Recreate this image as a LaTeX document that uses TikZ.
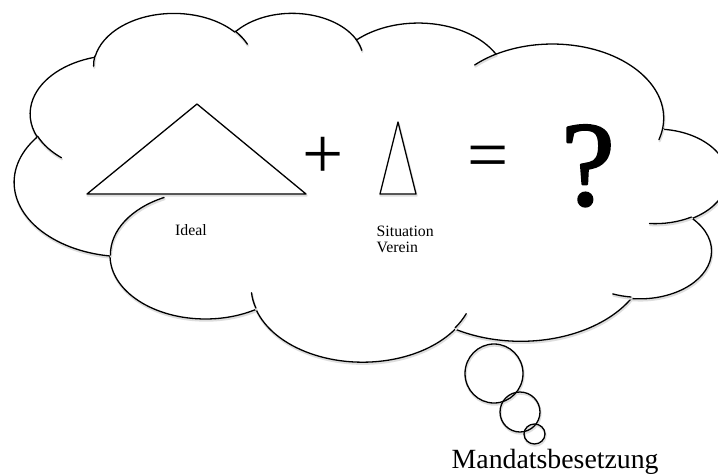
\documentclass[tikz,border=0pt]{standalone}
\usepackage{fontspec}
\setmainfont{Liberation Serif}
\newfontfamily\heavyserif[FakeBold=1.6]{Liberation Serif}

% Outline of the cloud: eleven elliptic lobes, given as (x radius, y radius,
% start angle, sweep) with angles measured on the ellipse as seen
\newcommand\cloudrim[1]{%
  \path[#1] (3900,14370)
    \foreach \ea/\eb/\es/\ew [evaluate={\es as \ta using atan2(\ea*sin(\es),\eb*cos(\es))},
                              evaluate={\es as \tb using atan2(\ea*sin(\es+\ew),\eb*cos(\es+\ew))},
                              evaluate={\es as \td using mod(\tb-\ta+720,360)}] in
      {6753/9190/-190.48748/123.78053, 5333/7267/-144.10238/89.94523,
       4365/5945/-145.80792/99.72302,  4857/6595/-130.98607/117.24173,
       5333/7273/-78.70888/109.02692,  6775/9220/-46.26725/130.269,
       5785/7867/0.62502/114.03333,    6752/9215/22.4516/115.17255,
       7720/10543/66.24263/75.71102,   4360/5918/-274.94208/146.73557,
       4345/5945/-246.8285/152.51885}
    { arc[start angle=\ta, delta angle=\td, x radius=\ea, y radius=\eb] } -- cycle;
}
% Short inner arcs where two lobes meet
\newcommand\cloudfolds[1]{%
  \foreach \px/\py/\ea/\eb/\es/\ew [evaluate={\es as \ta using atan2(\ea*sin(\es),\eb*cos(\es))},
                                    evaluate={\es as \tb using atan2(\ea*sin(\es+\ew),\eb*cos(\es+\ew))},
                                    evaluate={\es as \td using mod(\tb-\ta+720,360)}] in
      {4693/26177/4345/5945/86.742/26.4295,
       6928/34899/4360/5918/73.6105/11.4475,
       16478/39090/6752/9215/137.6241/14.0811,
       28827/34751/6752/9215/6.4533/15.9984,
       34129/22954/5785/7867/-70.2924/70.9174,
       41798/15354/5333/7273/30.318/27.7515,
       38324/5426/4857/6595/-13.7443/14.8589,
       29078/3952/4857/6595/-149.1815/18.1954,
       22141/4720/4365/5945/-163.4943/17.6864,
       14000/5192/6753/9190/-66.707/12.3194,
       4127/15789/6753/9190/157.6544/11.8582}
    { \path[#1] (\px,\py) arc[start angle=\ta, delta angle=\td, x radius=\ea, y radius=\eb]; }
}

\begin{document}
\begin{tikzpicture}[x=1pt,y=-1pt,line join=round,line cap=round,
  ink/.style={draw=black,line width=1.3pt},
  haze/.style={draw=black!13,line width=2.2pt},
  label/.style={inner sep=0pt,font=\fontsize{15.8}{16.7}\selectfont},
  sign/.style={inner sep=0pt,font=\fontsize{73}{73}\selectfont}]
\useasboundingbox[fill=white] (0,0) rectangle (718,474);

% soft shadow under the cloud outline
\begin{scope}[shift={(0.6,1.6)}]
  \begin{scope}[shift={(727,12.2)},x=-0.0165pt,y=-0.00807pt]
    \cloudrim{haze}
  \end{scope}
\end{scope}

% the thought cloud
\begin{scope}[shift={(727,12.2)},x=-0.0165pt,y=-0.00807pt]
  \cloudrim{ink,fill=white}
\end{scope}

% shadows of the inner lines
\begin{scope}[shift={(0.6,1.6)}]
  \begin{scope}[shift={(727,12.2)},x=-0.0165pt,y=-0.00807pt]
    \cloudfolds{haze}
  \end{scope}
  \draw[haze] (197,104) -- (306,194) -- (87,194) -- cycle;
  \draw[haze] (398,122) -- (416,194) -- (380,194) -- cycle;
  \draw[haze] (494,373.5) ellipse[x radius=29,y radius=29.5];
  \draw[haze] (520,412) ellipse[x radius=20,y radius=20];
  \draw[haze] (534.5,434) ellipse[x radius=10.5,y radius=10];
\end{scope}
\begin{scope}[shift={(727,12.2)},x=-0.0165pt,y=-0.00807pt]
  \cloudfolds{ink}
\end{scope}

% wide and narrow triangles
\draw[ink,fill=white] (197,104) -- (306,194) -- (87,194) -- cycle;
\draw[ink,fill=white] (398,122) -- (416,194) -- (380,194) -- cycle;

% small bubbles leading down from the cloud
\draw[ink] (494,373.5) ellipse[x radius=29,y radius=29.5];
\draw[ink] (520,412) ellipse[x radius=20,y radius=20];
\draw[ink] (534.5,434) ellipse[x radius=10.5,y radius=10];

% signs
\node[sign,anchor=base] (plus) at (323.5,178) {+};
\node[sign,anchor=base] (equals) at (488.5,179) {=};
\node[inner sep=0pt,font=\heavyserif\fontsize{121}{121}\selectfont,anchor=base] (question) at (588,205) {?};

% labels
\node[label,anchor=base west] (ideal) at (175,235) {Ideal};
\node[label,anchor=base west] (situation) at (376.5,236) {Situation};
\node[label,anchor=base west] (verein) at (376.5,252.7) {Verein};
\node[inner sep=0pt,font=\fontsize{27.8}{30}\selectfont,anchor=base west] (mandate) at (451.5,468.3) {Mandatsbesetzung};
\end{tikzpicture}
\end{document}
